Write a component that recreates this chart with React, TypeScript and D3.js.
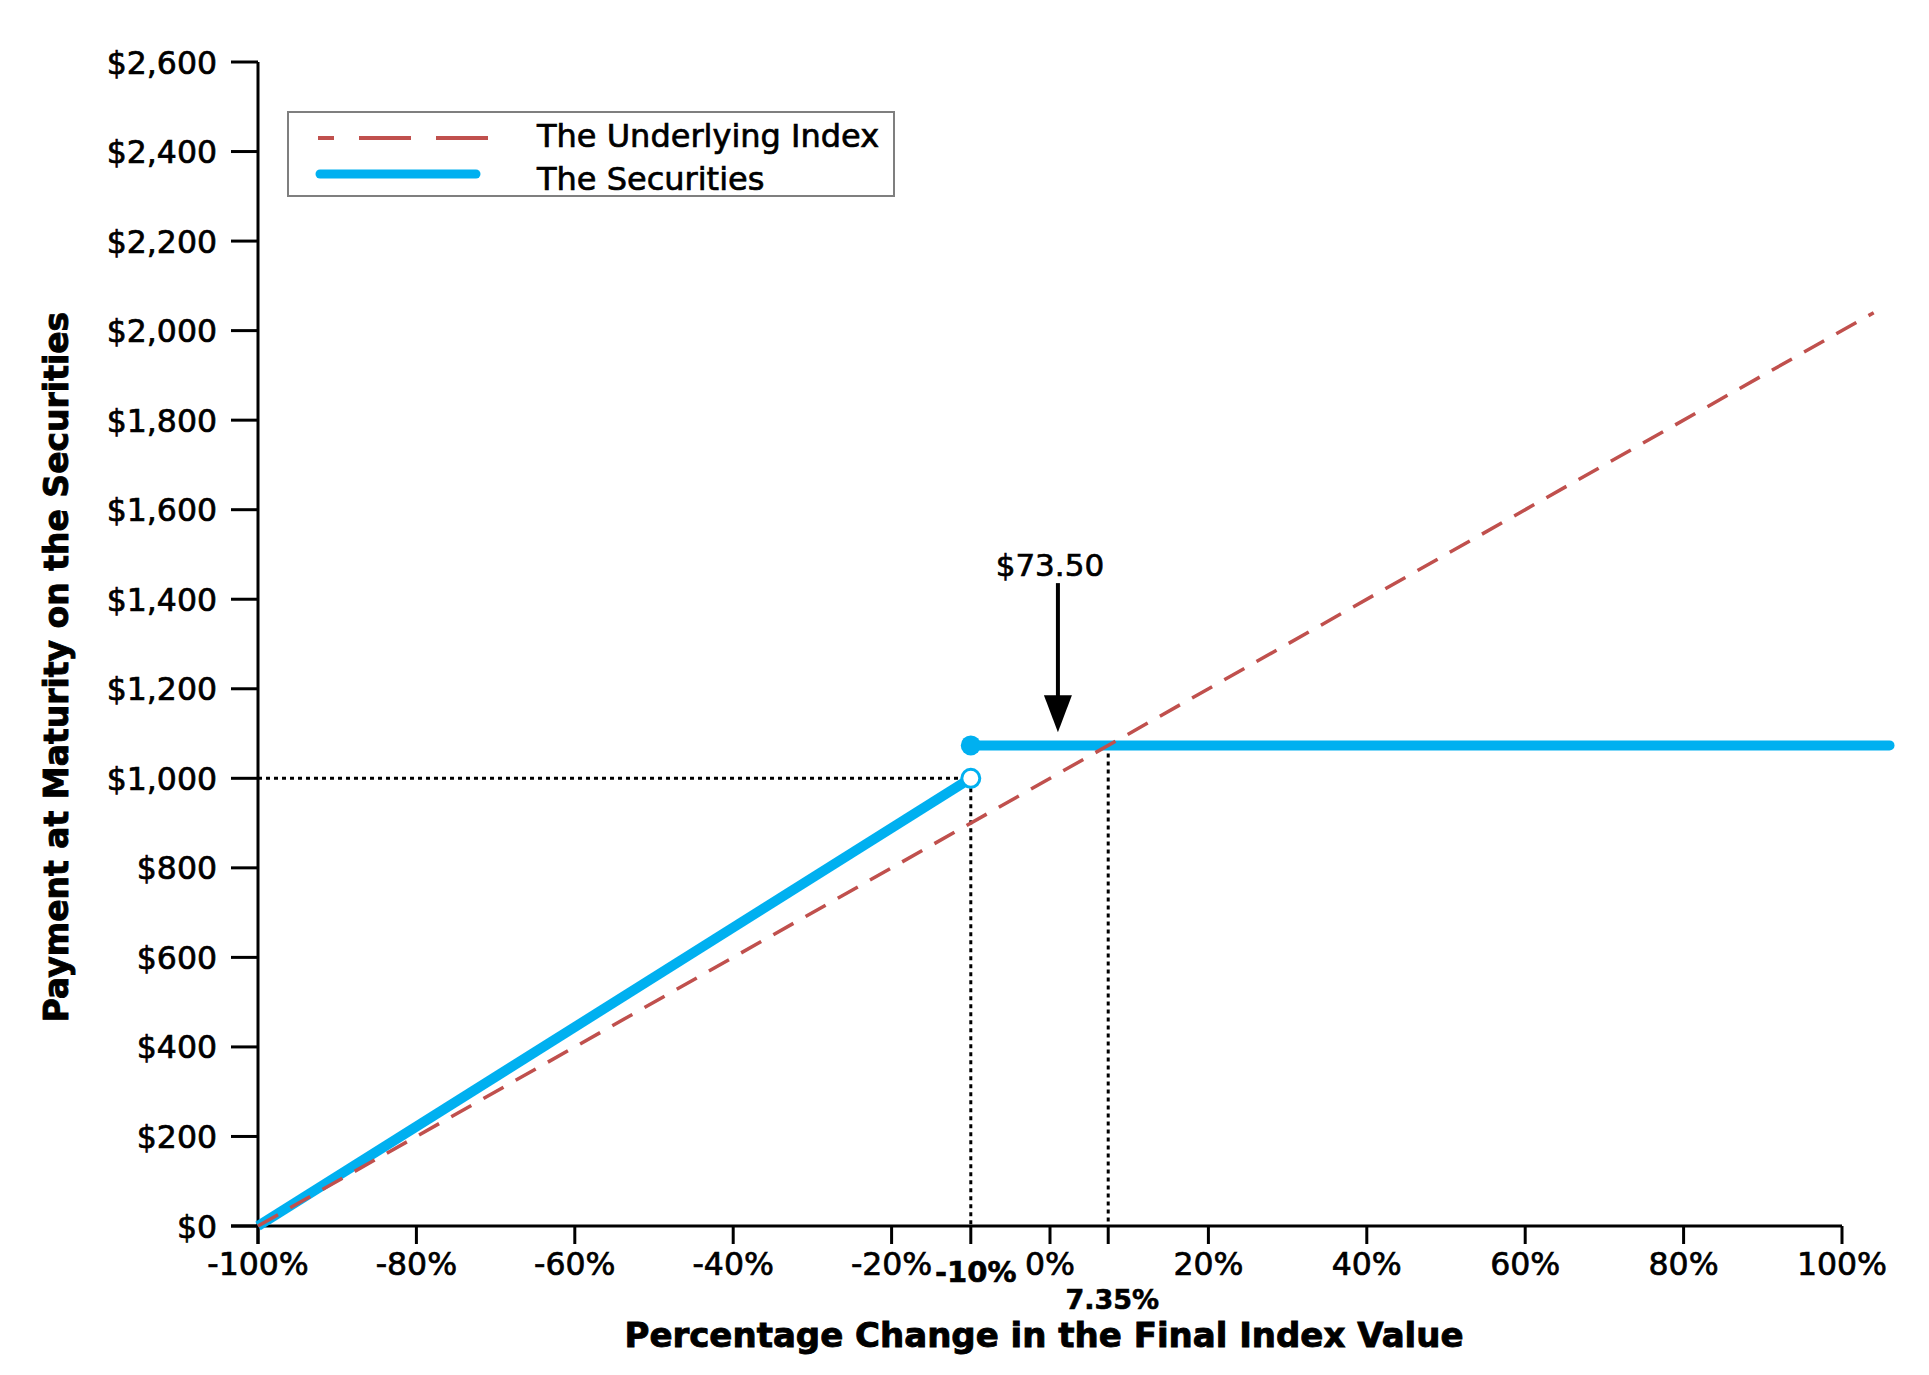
import React from 'react';
import * as d3 from 'd3';

// axis ticks
const X_TICKS = [-100, -80, -60, -40, -20, 0, 20, 40, 60, 80, 100];
const Y_TICKS = [0, 200, 400, 600, 800, 1000, 1200, 1400, 1600, 1800, 2000, 2200, 2400, 2600];

// key points of the payoff
const BUFFER_PCT = -10;
const PAR = 1000;
const CAP_PCT = 7.35;
const CAP_PAY = 1073.5;

// series
const INDEX_LINE = [
  { pct: -100, pay: 0 },
  { pct: 104, pay: 2040 },
];
const SECURITIES_LOW = [
  { pct: -100, pay: 0 },
  { pct: BUFFER_PCT, pay: PAR },
];
const SECURITIES_HIGH = [
  { pct: BUFFER_PCT, pay: CAP_PAY },
  { pct: 106, pay: CAP_PAY },
];

// annotation
const NOTE_LABEL = '$73.50';
const NOTE_ARROW = { pct: 1, from: 1436, to: 1103 };

const BLUE = '#00B0F0';
const RED = '#C0504D';
const SANS = '"DejaVu Sans", Verdana, sans-serif';

const W = 1929;
const H = 1375;

export default function App() {
  const x = d3.scaleLinear().domain([-100, 100]).range([258, 1842]);
  const y = d3.scaleLinear().domain([0, 2600]).range([1226, 62]);

  const line = d3.line<{ pct: number; pay: number }>()
    .x(d => x(d.pct))
    .y(d => y(d.pay));

  const money = d3.format('$,.0f');
  const pctLabel = (v: number) => `${v}%`;

  const arrowTip = y(NOTE_ARROW.to);
  const arrowX = x(NOTE_ARROW.pct);

  return (
    <div style={{ position: 'absolute', left: 0, top: 0 }}>
      <svg width={W} height={H} style={{ display: 'block', background: '#fff' }}>
        {/* dotted guides */}
        <g stroke="#000" strokeWidth={3} strokeDasharray="4 4" fill="none">
          <line x1={x(-100)} x2={x(BUFFER_PCT)} y1={y(PAR)} y2={y(PAR)} />
          <line x1={x(BUFFER_PCT)} x2={x(BUFFER_PCT)} y1={y(PAR) + 10} y2={y(0)} />
          <line x1={x(CAP_PCT)} x2={x(CAP_PCT)} y1={y(CAP_PAY)} y2={y(0)} />
        </g>

        {/* axes */}
        <g stroke="#000" strokeWidth={3} fill="none">
          <line x1={x(-100)} x2={x(-100)} y1={y(2600)} y2={y(0) + 18} />
          <line x1={x(-100) - 27} x2={x(100)} y1={y(0)} y2={y(0)} />
          {Y_TICKS.map(t => (
            <line key={t} x1={x(-100) - 27} x2={x(-100)} y1={y(t)} y2={y(t)} />
          ))}
          {[...X_TICKS, BUFFER_PCT, CAP_PCT].map(t => (
            <line key={t} x1={x(t)} x2={x(t)} y1={y(0)} y2={y(0) + 18} />
          ))}
        </g>

        <g fontFamily={SANS} fontSize={31.5} fill="#000" stroke="#000" strokeWidth={0.7}>
          {Y_TICKS.map(t => (
            <text key={t} x={217} y={y(t) + 11.5} textAnchor="end">{money(t)}</text>
          ))}
          {X_TICKS.map(t => (
            <text key={t} x={x(t)} y={1275} textAnchor="middle">{pctLabel(t)}</text>
          ))}
        </g>
        <g fontFamily={SANS} fontWeight="bold" fill="#000" stroke="#000" strokeWidth={0.6}>
          <text x={x(BUFFER_PCT) + 5} y={1282} textAnchor="middle" fontSize={29}>
            {pctLabel(BUFFER_PCT)}
          </text>
          <text x={x(CAP_PCT) + 4} y={1309} textAnchor="middle" fontSize={27}>
            {pctLabel(CAP_PCT)}
          </text>
        </g>

        {/* axis titles */}
        <g fontFamily={SANS} fontWeight="bold" fill="#000" stroke="#000" strokeWidth={0.9}>
          <text x={1044} y={1347} textAnchor="middle" fontSize={34}>
            Percentage Change in the Final Index Value
          </text>
          <text transform={`translate(68,${667}) rotate(-90)`} textAnchor="middle" fontSize={33}>
            Payment at Maturity on the Securities
          </text>
        </g>

        {/* securities */}
        <path d={line(SECURITIES_LOW) || ''} stroke={BLUE} strokeWidth={10} fill="none" />
        <path d={line(SECURITIES_HIGH) || ''} stroke={BLUE} strokeWidth={10} fill="none"
          strokeLinecap="round" />
        <circle cx={x(BUFFER_PCT)} cy={y(CAP_PAY)} r={10} fill={BLUE} />
        <circle cx={x(BUFFER_PCT)} cy={y(PAR)} r={9} fill="#fff" stroke={BLUE} strokeWidth={3} />

        {/* underlying index */}
        <path d={line(INDEX_LINE) || ''} stroke={RED} strokeWidth={3.5} strokeDasharray="23 14"
          fill="none" />

        {/* annotation */}
        <text x={arrowX - 8} y={y(1452)} textAnchor="middle" fontFamily={SANS}
          fontSize={31} stroke="#000" strokeWidth={0.7}>{NOTE_LABEL}</text>
        <line x1={arrowX} x2={arrowX} y1={y(NOTE_ARROW.from)} y2={arrowTip - 34}
          stroke="#000" strokeWidth={4} />
        <path d={`M${arrowX - 14},${arrowTip - 37} L${arrowX + 14},${arrowTip - 37} L${arrowX},${arrowTip} Z`}
          fill="#000" />

        {/* legend */}
        <g>
          <rect x={288} y={112} width={606} height={84} fill="#fff" stroke="#7f7f7f" strokeWidth={2} />
          <line x1={318} x2={492} y1={138} y2={138} stroke={RED} strokeWidth={4}
            strokeDasharray="52 25" strokeDashoffset={36} />
          <line x1={320} x2={476} y1={174} y2={174} stroke={BLUE} strokeWidth={9}
            strokeLinecap="round" />
          <g fontFamily={SANS} fontSize={32} fill="#000" stroke="#000" strokeWidth={0.7}>
            <text x={537} y={147}>The Underlying Index</text>
            <text x={537} y={190}>The Securities</text>
          </g>
        </g>
      </svg>
    </div>
  );
}
